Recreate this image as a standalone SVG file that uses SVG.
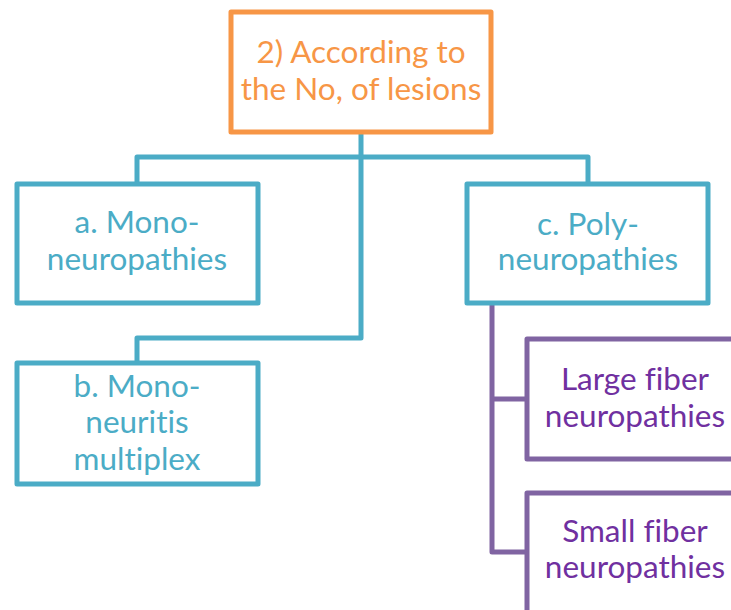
<svg xmlns="http://www.w3.org/2000/svg" width="731" height="610" viewBox="0 0 731 610">
<style>
.box{fill:#fff;stroke-width:5;stroke-linejoin:round}
.o{stroke:#F79646}
.t{stroke:#4BACC6}
.p{stroke:#8064A2}
text{font-family:Lato,"Open Sans",sans-serif;font-size:31.5px;text-anchor:middle;font-variant-ligatures:none}
.to{fill:#F79646}
.tt{fill:#4BACC6}
.tp{fill:#7030A0}
.c{fill:none;stroke-width:5;stroke-linejoin:round}
</style>
<rect width="731" height="610" fill="#fff"/>
<g id="connectors">
<path class="c t" d="M361 134 V157 M137 184 V157 H588 V184 M361 157 V338 H137 V363"/>
<path class="c p" d="M492 303 V552 H527 M492 399 H527"/>
</g>
<g id="root">
<rect class="box o" x="231" y="12" width="260" height="120"/>
<text class="to" x="361" y="63">2) According to</text>
<text class="to" x="361" y="100">the No, of lesions</text>
</g>
<g id="mono">
<rect class="box t" x="17" y="184" width="241" height="119"/>
<text class="tt" x="137" y="233">a. Mono-</text>
<text class="tt" x="137" y="270">neuropathies</text>
</g>
<g id="multiplex">
<rect class="box t" x="17" y="363" width="241" height="121"/>
<text class="tt" x="137" y="397">b. Mono-</text>
<text class="tt" x="137" y="433">neuritis</text>
<text class="tt" x="137" y="470">multiplex</text>
</g>
<g id="poly">
<rect class="box t" x="467" y="184" width="241" height="119"/>
<text class="tt" x="588" y="235">c. Poly-</text>
<text class="tt" x="588" y="270">neuropathies</text>
</g>
<g id="large">
<rect class="box p" x="527" y="339" width="220" height="120"/>
<text class="tp" x="635" y="390">Large fiber</text>
<text class="tp" x="635" y="427">neuropathies</text>
</g>
<g id="small">
<rect class="box p" x="527" y="493" width="220" height="140"/>
<text class="tp" x="635" y="542">Small fiber</text>
<text class="tp" x="635" y="578">neuropathies</text>
</g>
</svg>
